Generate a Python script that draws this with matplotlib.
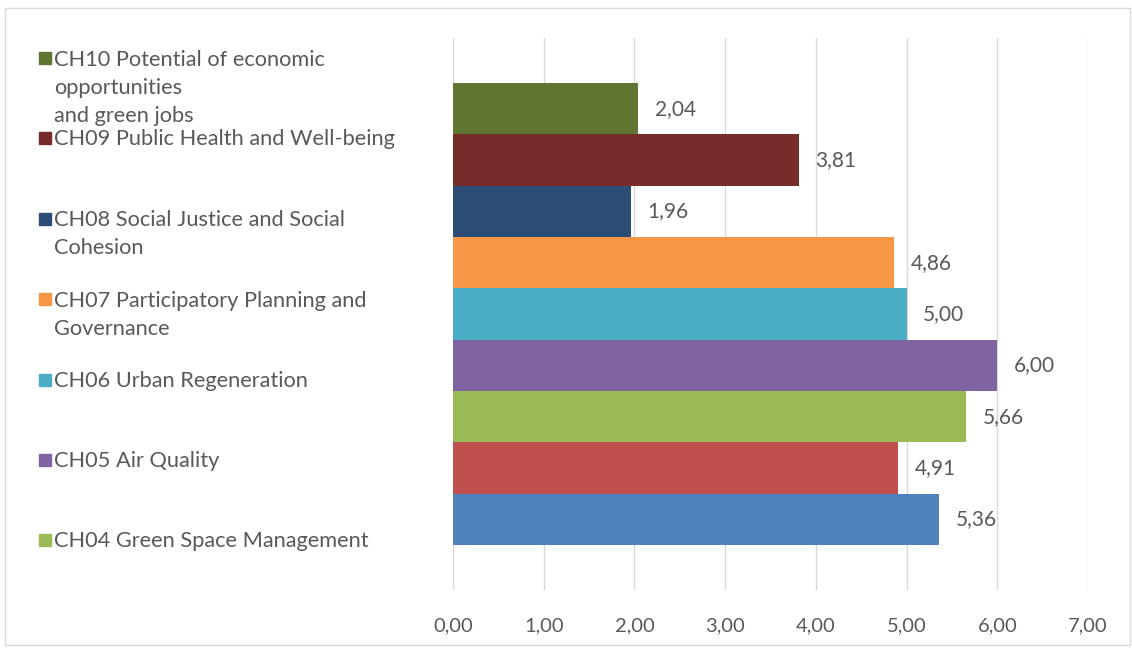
import matplotlib.pyplot as plt
import matplotlib.patches as mpatches
import numpy as np

# bar values, top to bottom
values = [2.04, 3.81, 1.96, 4.86, 5.00, 6.00, 5.66, 4.91, 5.36]
colors = ['#5F7530', '#772C2A', '#2C4D75', '#F79646', '#4BACC6',
          '#8064A2', '#9BBB59', '#C0504D', '#4F81BD']
# legend entries (only the first seven series are listed)
labels = ['CH10 Potential of economic\nopportunities\nand green jobs',
          'CH09 Public Health and Well-being',
          'CH08 Social Justice and Social\nCohesion',
          'CH07 Participatory Planning and\nGovernance',
          'CH06 Urban Regeneration',
          'CH05 Air Quality',
          'CH04 Green Space Management']
xticks = [0, 1, 2, 3, 4, 5, 6, 7]

W, H = 1132, 651
plt.rcParams['font.family'] = ['Lato', 'DejaVu Sans']
fig = plt.figure(figsize=(W / 100, H / 100), dpi=100)

def fx(px):
    return px / W

def fy(py):
    return 1 - py / H

ax = fig.add_axes([fx(453), fy(590), fx(1088) - fx(453), fy(38) - fy(590)])

ypos = np.arange(len(values))
bars = ax.barh(ypos, values, height=1.0, color=colors, zorder=2)
ax.bar_label(bars, labels=[f'{v:.2f}'.replace('.', ',') for v in values],
             padding=12, fontsize=15, color='#595959')

m = 0.877
ax.set_ylim(len(values) - 0.5 + m, -0.5 - m)
ax.set_xlim(0, 7)
ax.set_xticks(xticks)
ax.set_xticklabels([f'{t:.2f}'.replace('.', ',') for t in xticks])
ax.set_yticks([])
ax.tick_params(axis='x', length=0, pad=20, labelsize=14.5, labelcolor='#595959')
ax.grid(axis='x', color='#d9d9d9', linewidth=1, zorder=0)
for spine in ax.spines.values():
    spine.set_visible(False)

# legend on the left, one slot per entry; baseline anchors the last line
line_h = 28.5
for i, (lab, col) in enumerate(zip(labels, colors)):
    base = 65 + i * 80.4
    nl = lab.count('\n')
    fig.patches.append(mpatches.Rectangle((fx(39), fy(base - 1)), fx(12), fy(0) - fy(12),
                                          transform=fig.transFigure, color=col))
    fig.text(fx(54), fy(base + nl * line_h), lab, fontsize=15.7, color='#595959',
             va='baseline', ha='left', linespacing=1.5)

# chart frame
fig.patches.append(mpatches.Rectangle((fx(5), fy(645)), fx(1125), fy(8) - fy(645),
                                      transform=fig.transFigure, fill=False,
                                      edgecolor='#d9d9d9', linewidth=1))

fig.savefig('out.png', dpi=100)
